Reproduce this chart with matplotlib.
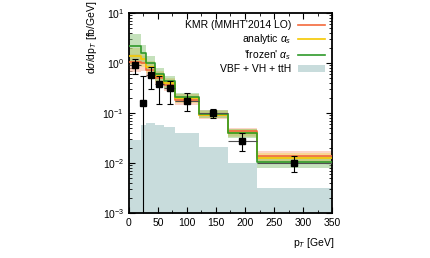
import numpy as np
import matplotlib
matplotlib.use('Agg')
import matplotlib.pyplot as plt
from matplotlib.ticker import MultipleLocator, LogLocator, NullFormatter

plt.rcParams['font.family'] = ['Liberation Sans', 'DejaVu Sans']
plt.rcParams['mathtext.fontset'] = 'custom'
plt.rcParams['mathtext.rm'] = 'Liberation Sans'
plt.rcParams['mathtext.it'] = 'Liberation Sans:italic'
plt.rcParams['font.size'] = 7.5

# bins (GeV)
edges = [0, 20, 30, 45, 60, 80, 120, 170, 220, 350]

# KMR (MMHT'2014 LO)
kmr = [1.05, 1.0, 0.72, 0.5, 0.36, 0.185, 0.092, 0.043, 0.0138]
kmr_lo = [0.65, 0.7, 0.52, 0.37, 0.27, 0.145, 0.075, 0.034, 0.0105]
kmr_hi = [1.5, 1.35, 0.95, 0.65, 0.47, 0.235, 0.115, 0.05, 0.0176]

# analytic alpha_s
analytic = [1.4, 1.2, 0.85, 0.55, 0.39, 0.195, 0.092, 0.04, 0.0128]
analytic_lo = [0.9, 0.85, 0.62, 0.42, 0.3, 0.16, 0.078, 0.033, 0.0098]
analytic_hi = [2.0, 1.6, 1.1, 0.7, 0.5, 0.24, 0.11, 0.048, 0.016]

# 'frozen' alpha_s
frozen = [2.2, 1.55, 1.0, 0.6, 0.43, 0.205, 0.095, 0.04, 0.0105]
frozen_lo = [1.1, 0.95, 0.7, 0.44, 0.32, 0.165, 0.078, 0.032, 0.008]
frozen_hi = [3.8, 2.3, 1.4, 0.8, 0.56, 0.25, 0.115, 0.048, 0.0135]

# VBF + VH + ttH
vbf = [0.029, 0.057, 0.062, 0.058, 0.052, 0.04, 0.021, 0.01, 0.0032]

# data
x_data = [10, 25, 37.5, 52.5, 70, 100, 145, 195, 285]
y_data = [0.9, 0.155, 0.58, 0.38, 0.31, 0.175, 0.1, 0.028, 0.0102]
y_up = [1.2, 0.55, 0.85, 0.55, 0.43, 0.25, 0.12, 0.04, 0.0135]
y_down = [0.6, 1e-4, 0.3, 0.15, 0.15, 0.11, 0.08, 0.017, 0.0065]


def stepify(vals):
    return list(vals) + [vals[-1]]


fig = plt.figure(figsize=(4.31, 2.58), dpi=100)
ax = fig.add_axes([129 / 431, 45 / 258, 203 / 431, 200 / 258])

ax.fill_between(edges, stepify(vbf), 1e-4, step='post', color='#c8dcdc', lw=0,
                label='VBF + VH + ttH', zorder=1)

bands = [
    (kmr_lo, kmr_hi, '#fbb9a4', 0.6),
    (analytic_lo, analytic_hi, '#f6d76a', 0.55),
    (frozen_lo, frozen_hi, '#8cc47a', 0.5),
]
for lo, hi, c, a in bands:
    ax.fill_between(edges, stepify(lo), stepify(hi), step='post', color=c,
                    alpha=a, lw=0, zorder=2)

ax.step(edges, stepify(kmr), where='post', color='#f4693c', lw=1.2,
        label="KMR (MMHT'2014 LO)", zorder=3)
ax.step(edges, stepify(analytic), where='post', color='#f5c800', lw=1.2,
        label=r'analytic $\alpha_s$', zorder=3)
ax.step(edges, stepify(frozen), where='post', color='#2f9a2a', lw=1.2,
        label=r"'frozen' $\alpha_s$", zorder=3)

xerr = [(edges[i + 1] - edges[i]) / 2 for i in range(len(x_data))]
yerr = [np.array(y_data) - np.array(y_down), np.array(y_up) - np.array(y_data)]
ax.errorbar(x_data, y_data, xerr=xerr, fmt='none', ecolor='#505050', elinewidth=0.8,
            capsize=0, zorder=4)
ax.errorbar(x_data, y_data, yerr=yerr, fmt='s', color='black', ms=4.5,
            ecolor='black', elinewidth=0.8, capsize=2, capthick=0.8, zorder=5)

ax.set_yscale('log')
ax.set_xlim(0, 350)
ax.set_ylim(1e-3, 10)
ax.xaxis.set_major_locator(MultipleLocator(50))
ax.xaxis.set_minor_locator(MultipleLocator(25))
ax.yaxis.set_major_locator(LogLocator(base=10, numticks=10))
ax.yaxis.set_minor_locator(LogLocator(base=10, subs=np.arange(2, 10), numticks=20))
ax.yaxis.set_minor_formatter(NullFormatter())
ax.tick_params(which='both', direction='in', top=True, right=True, labelsize=7.5)
ax.tick_params(which='major', length=4, width=0.8)
ax.tick_params(which='minor', length=2, width=0.6)
for s in ax.spines.values():
    s.set_linewidth(1.3)

ax.set_ylabel(r'd$\sigma$/dp$_T$ [fb/GeV]', fontsize=7.5)
ax.yaxis.set_label_coords(-0.15, 0.88)
ax.set_xlabel(r'p$_T$ [GeV]', fontsize=7.5)
ax.xaxis.set_label_coords(0.91, -0.115)

h, l = ax.get_legend_handles_labels()
order = [1, 2, 3, 0]
ax.legend([h[i] for i in order], [l[i] for i in order], loc='upper right',
          frameon=False, markerfirst=False, fontsize=7.5, handlelength=2.6,
          labelspacing=0.2, borderaxespad=0.3, handletextpad=0.6)

fig.savefig('out.png', dpi=100)
